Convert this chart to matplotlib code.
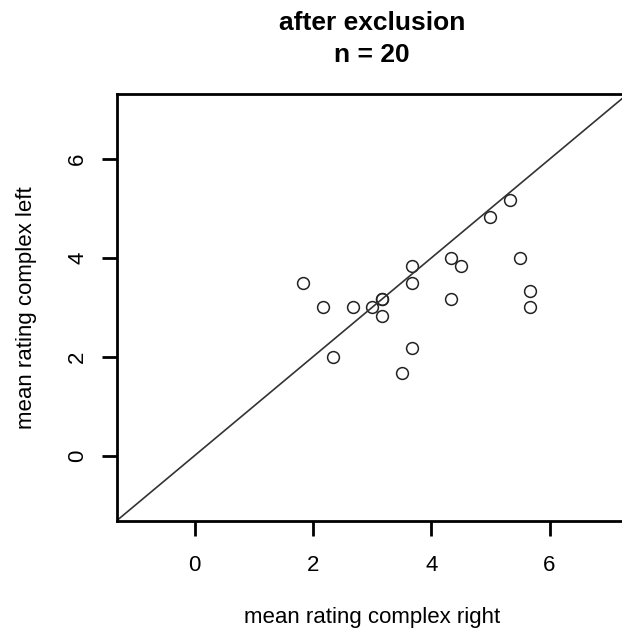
import matplotlib
matplotlib.use("Agg")
import matplotlib.pyplot as plt

plt.rcParams['font.family'] = ['Liberation Sans', 'DejaVu Sans']

# mean ratings per participant (after exclusion, n = 20)
complex_right = [1.83, 2.17, 2.67, 3.00, 3.17, 3.17, 3.17, 2.33, 3.67, 3.67,
                 3.67, 3.50, 4.33, 4.50, 4.33, 5.00, 5.33, 5.50, 5.67, 5.67]
complex_left = [3.50, 3.00, 3.00, 3.00, 3.17, 3.17, 2.83, 2.00, 3.83, 3.50,
                2.17, 1.67, 4.00, 3.83, 3.17, 4.83, 5.17, 4.00, 3.33, 3.00]
tick_vals = [0, 2, 4, 6]
lims = (-1.32, 7.32)

fig = plt.figure(figsize=(6.22, 6.3), dpi=100)
ax = fig.add_axes([0.1876, 0.1735, 0.8214, 0.6773])

ax.plot(complex_right, complex_left, 'o', mfc='none', mec='#222222',
        ms=8.5, mew=1.1, clip_on=False)
ax.plot(lims, lims, '-', color='#333333', lw=1.2)

ax.set_xlim(lims)
ax.set_ylim(lims)
ax.set_xticks(tick_vals)
ax.set_yticks(tick_vals)
ax.set_yticklabels([str(v) for v in tick_vals], rotation=90, va='center')

for sp in ax.spines.values():
    sp.set_linewidth(2.0)
ax.tick_params(axis='both', length=11, width=2.0, labelsize=16)
ax.tick_params(axis='x', pad=14)
ax.tick_params(axis='y', pad=9.5)

ax.set_xlabel('mean rating complex right', fontsize=16, labelpad=22)
ax.set_ylabel('mean rating complex left', fontsize=16, labelpad=22)

cx = 0.1876 + 0.8214 / 2
fig.text(cx, 0.952, 'after exclusion', ha='center', va='baseline',
         fontsize=19, fontweight='bold')
fig.text(cx, 0.9016, 'n = 20', ha='center', va='baseline',
         fontsize=19, fontweight='bold')

fig.savefig('out.png', dpi=100)
